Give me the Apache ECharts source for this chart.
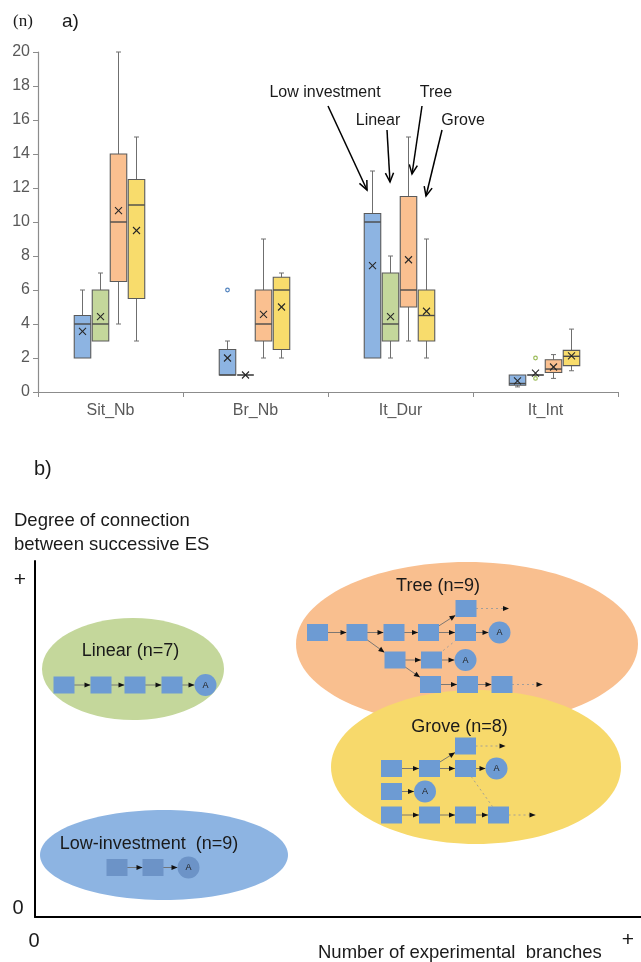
<!DOCTYPE html>
<html>
<head>
<meta charset="utf-8">
<title>Exploration strategies</title>
<script src="https://cdn.jsdelivr.net/npm/echarts@6/dist/echarts.min.js"></script>
<style>
  html, body { margin: 0; padding: 0; background: #fff; }
  #chart { width: 641px; height: 962px; }
</style>
</head>
<body>
<div id="chart"></div>
<script>
// ---------- panel a) box plots, one row per indicator: [min, q1, median, q3, max]
const categories = ['Sit_Nb', 'Br_Nb', 'It_Dur', 'It_Int']

const lowInvestmentBox = [[2, 2, 4, 4.5, 6], [1, 1, 1, 2.5, 3], [2, 2, 10, 10.5, 13], [0.3, 0.4, 0.5, 1, 1]]
const linearBox = [[3, 3, 4, 6, 7], [1, 1, 1, 1, 1], [2, 3, 4, 7, 8], [1, 1, 1, 1, 1]]
const treeBox = [[4, 6.5, 10, 14, 20], [2, 3, 4, 6, 9], [3, 5, 6, 11.5, 15], [0.8, 1.15, 1.35, 1.9, 2.2]]
const groveBox = [[3, 5.5, 11, 12.5, 15], [2, 2.5, 6, 6.75, 7], [2, 3, 4.5, 6, 9], [1.25, 1.55, 2.1, 2.45, 3.7]]

const lowInvestmentMean = [3.56, 2, 7.44, 0.65]
const linearMean = [4.43, 1, 4.43, 1.11]
const treeMean = [10.67, 4.56, 7.78, 1.47]
const groveMean = [9.5, 5, 4.75, 2.13]

// outliers: [category index, value]
const lowInvestmentOutliers = [[1, 6]]
const linearOutliers = [[3, 2], [3, 0.8]]
const treeOutliers = []
const groveOutliers = []

// ---------- panel b) typology diagram, in diagram units (x: branches, y: connection)
const typeLabels = ['Low-investment  (n=9)', 'Linear (n=7)', 'Tree (n=9)', 'Grove (n=8)']
const typeCenters = [[25.8, 12.4], [19.6, 49.6], [86.4, 54.6], [88.2, 30]]
const typeRadii = [[24.8, 9], [18.2, 10.2], [34.2, 16.4], [29, 15.4]]
const typeLabelAnchors = [[22.8, 14.5], [19.1, 53.1], [80.6, 66.2], [84.9, 37.9]]

// nodes: [x, y, kind]  kind 0 = step, 1 = "A" end
const lowInvestmentNodes = [[16.4, 9.9, 0], [23.6, 9.9, 0], [30.7, 9.9, 1]]
const linearNodes = [[5.8, 46.4, 0], [13.2, 46.4, 0], [20, 46.4, 0], [27.4, 46.4, 0], [34.1, 46.4, 1]]
const treeNodes = [
  [56.5, 56.9, 0], [64.4, 56.9, 0], [71.8, 56.9, 0], [78.7, 56.9, 0], [86.1, 56.9, 0], [92.9, 56.9, 1],
  [86.2, 61.7, 0],
  [72, 51.4, 0], [79.3, 51.4, 0], [86.1, 51.4, 1],
  [79.1, 46.5, 0], [86.5, 46.5, 0], [93.4, 46.5, 0]
]
const groveNodes = [
  [86.1, 34.2, 0],
  [71.3, 29.7, 0], [78.9, 29.7, 0], [86.1, 29.7, 0], [92.3, 29.7, 1],
  [71.3, 25.1, 0], [78, 25.1, 1],
  [71.3, 20.4, 0], [78.9, 20.4, 0], [86.1, 20.4, 0], [92.7, 20.4, 0]
]

// edges: [x1, y1, x2, y2, kind]  0 = into step, 1 = into "A", 2 = dashed open end, 3 = dashed link
const lowInvestmentEdges = [[16.4, 9.9, 23.6, 9.9, 0], [23.6, 9.9, 30.7, 9.9, 1]]
const linearEdges = [[5.8, 46.4, 13.2, 46.4, 0], [13.2, 46.4, 20, 46.4, 0], [20, 46.4, 27.4, 46.4, 0], [27.4, 46.4, 34.1, 46.4, 1]]
const treeEdges = [
  [56.5, 56.9, 64.4, 56.9, 0], [64.4, 56.9, 71.8, 56.9, 0], [71.8, 56.9, 78.7, 56.9, 0], [78.7, 56.9, 86.1, 56.9, 0], [86.1, 56.9, 92.9, 56.9, 1],
  [78.7, 56.9, 86.2, 61.7, 0], [86.2, 61.7, 94.8, 61.7, 2],
  [64.4, 56.9, 72, 51.4, 0], [72, 51.4, 79.3, 51.4, 0], [79.3, 51.4, 86.1, 51.4, 1],
  [72, 51.4, 79.1, 46.5, 0], [79.1, 46.5, 86.5, 46.5, 0], [86.5, 46.5, 93.4, 46.5, 0], [93.4, 46.5, 101.5, 46.5, 2],
  [79.3, 51.4, 86.1, 56.9, 3]
]
const groveEdges = [
  [71.3, 29.7, 78.9, 29.7, 0], [78.9, 29.7, 86.1, 29.7, 0], [86.1, 29.7, 92.3, 29.7, 1],
  [78.9, 29.7, 86.1, 34.2, 0], [86.1, 34.2, 94.1, 34.2, 2],
  [71.3, 25.1, 78, 25.1, 1],
  [71.3, 20.4, 78.9, 20.4, 0], [78.9, 20.4, 86.1, 20.4, 0], [86.1, 20.4, 92.7, 20.4, 0], [92.7, 20.4, 100.1, 20.4, 2],
  [86.1, 29.7, 92.7, 20.4, 3]
]

// ---------- styles
const FONT = 'Liberation Sans, Arial, sans-serif'
const boxColors = ['#8db4e2', '#c4d79b', '#fac090', '#f8dc6c']
const outlierColors = ['#4f81bd', '#9bbb59', '#e46c0a', '#c9a50c']
const ellipseColors = ['#8db4e2', '#c4d79b', '#f9bf8f', '#f7d96b']
const BOX_OFFSETS = [-28, -10, 8, 26]
const BOX_W = 16.5
const NODE_W = 21
const NODE_H = 17
const NODE_R = 11

const chart = echarts.init(document.getElementById('chart'))

function seg(x1, y1, x2, y2, stroke, lineWidth) {
  return { type: 'line', shape: { x1, y1, x2, y2 }, style: { stroke, lineWidth } }
}

function boxRenderer(groupIndex) {
  const offset = BOX_OFFSETS[groupIndex]
  const fill = boxColors[groupIndex]
  return function (params, api) {
    const cat = api.value(0)
    const cx = api.coord([cat, 0])[0] + offset
    const py = (i) => api.coord([cat, api.value(i)])[1]
    const yMin = py(1), yQ1 = py(2), yMed = py(3), yQ3 = py(4), yMax = py(5), yMean = py(6)
    const hw = BOX_W / 2
    const children = []
    if (yMax < yQ3 - 0.5) {
      children.push(seg(cx, yQ3, cx, yMax, '#6f6f6f', 1))
      children.push(seg(cx - 2.5, yMax, cx + 2.5, yMax, '#6f6f6f', 1))
    }
    if (yMin > yQ1 + 0.5) {
      children.push(seg(cx, yQ1, cx, yMin, '#6f6f6f', 1))
      children.push(seg(cx - 2.5, yMin, cx + 2.5, yMin, '#6f6f6f', 1))
    }
    children.push({
      type: 'rect',
      shape: { x: cx - hw, y: yQ3, width: BOX_W, height: Math.max(yQ1 - yQ3, 0) },
      style: { fill, stroke: '#5a5a5a', lineWidth: 1.1 }
    })
    children.push(seg(cx - hw, yMed, cx + hw, yMed, '#4a4a4a', 1.4))
    children.push(seg(cx - 3.5, yMean - 3.5, cx + 3.5, yMean + 3.5, '#262626', 1.1))
    children.push(seg(cx - 3.5, yMean + 3.5, cx + 3.5, yMean - 3.5, '#262626', 1.1))
    return { type: 'group', children }
  }
}

function outlierRenderer(groupIndex) {
  const offset = BOX_OFFSETS[groupIndex]
  return function (params, api) {
    const p = api.coord([api.value(0), api.value(1)])
    return {
      type: 'circle',
      shape: { cx: p[0] + offset, cy: p[1], r: 1.8 },
      style: { fill: '#fff', stroke: outlierColors[groupIndex], lineWidth: 1.2 }
    }
  }
}

function boxSeries(name, groupIndex, boxes, means, outliers) {
  return [
    {
      name,
      type: 'custom',
      xAxisIndex: 0,
      yAxisIndex: 0,
      renderItem: boxRenderer(groupIndex),
      data: boxes.map((b, i) => [i, ...b, means[i]]),
      z: 3
    },
    {
      name: name + ' outliers',
      type: 'custom',
      xAxisIndex: 0,
      yAxisIndex: 0,
      renderItem: outlierRenderer(groupIndex),
      data: outliers,
      z: 4
    }
  ]
}

// clip an edge end at the border of the target node
function edgeRenderer(params, api) {
  const a = api.coord([api.value(0), api.value(1)])
  const b = api.coord([api.value(2), api.value(3)])
  const kind = api.value(4)
  const dx = b[0] - a[0]
  const dy = b[1] - a[1]
  const len = Math.sqrt(dx * dx + dy * dy)
  const ux = dx / len
  const uy = dy / len
  let cut = 0
  if (kind === 0 || kind === 3) {
    cut = Math.min(NODE_W / 2 / Math.max(Math.abs(ux), 1e-6), NODE_H / 2 / Math.max(Math.abs(uy), 1e-6))
  } else if (kind === 1) {
    cut = NODE_R
  }
  const tip = [b[0] - ux * cut, b[1] - uy * cut]
  const dashed = kind >= 2
  const children = [{
    type: 'line',
    shape: { x1: a[0], y1: a[1], x2: tip[0], y2: tip[1] },
    style: { stroke: dashed ? '#9a9a9a' : '#6e6e6e', lineWidth: 0.9, lineDash: dashed ? [2, 3] : null }
  }]
  if (kind !== 3) {
    const L = 6
    const W = 2.6
    children.push({
      type: 'polygon',
      shape: {
        points: [
          tip,
          [tip[0] - ux * L - uy * W, tip[1] - uy * L + ux * W],
          [tip[0] - ux * L + uy * W, tip[1] - uy * L - ux * W]
        ]
      },
      style: { fill: '#111' }
    })
  }
  return { type: 'group', children }
}

function nodeRenderer(color) {
  return function (params, api) {
    const p = api.coord([api.value(0), api.value(1)])
    if (api.value(2) === 1) {
      return {
        type: 'group',
        children: [
          { type: 'circle', shape: { cx: p[0], cy: p[1], r: NODE_R }, style: { fill: color } },
          {
            type: 'text',
            x: p[0],
            y: p[1] + 0.5,
            style: { text: 'A', fontSize: 9, fontFamily: FONT, fill: '#222', align: 'center', verticalAlign: 'middle' }
          }
        ]
      }
    }
    return {
      type: 'rect',
      shape: { x: p[0] - NODE_W / 2, y: p[1] - NODE_H / 2, width: NODE_W, height: NODE_H },
      style: { fill: color }
    }
  }
}

function diagramSeries(name, nodes, edges, color) {
  return [
    { name: name + ' links', type: 'custom', xAxisIndex: 1, yAxisIndex: 1, renderItem: edgeRenderer, data: edges, z: 3 },
    { name: name + ' steps', type: 'custom', xAxisIndex: 1, yAxisIndex: 1, renderItem: nodeRenderer(color), data: nodes, z: 4 }
  ]
}

function arrow(x1, y1, x2, y2) {
  const a = Math.atan2(y2 - y1, x2 - x1)
  const L = 10
  const t = 0.42
  return {
    type: 'group',
    children: [
      { type: 'line', shape: { x1, y1, x2, y2 }, style: { stroke: '#000', lineWidth: 1.5 } },
      {
        type: 'polyline',
        shape: {
          points: [
            [x2 - L * Math.cos(a - t), y2 - L * Math.sin(a - t)],
            [x2, y2],
            [x2 - L * Math.cos(a + t), y2 - L * Math.sin(a + t)]
          ]
        },
        style: { stroke: '#000', lineWidth: 1.5, fill: null }
      }
    ]
  }
}

function note(text, x, y, size, extra) {
  return {
    type: 'text',
    x,
    y,
    style: Object.assign({ text, fontSize: size, fontFamily: FONT, fill: '#1a1a1a', align: 'center', verticalAlign: 'middle' }, extra || {})
  }
}

const option = {
  animation: false,
  backgroundColor: '#fff',
  textStyle: { fontFamily: FONT },
  grid: [
    { left: 38, top: 52, width: 580, height: 340 },
    { left: 35, right: 0, top: 561, bottom: 45 }
  ],
  xAxis: [
    {
      gridIndex: 0,
      type: 'category',
      data: categories,
      axisLine: { lineStyle: { color: '#8c8c8c', width: 1.2 } },
      axisTick: { show: true, length: 5, lineStyle: { color: '#8c8c8c' } },
      axisLabel: { color: '#595959', fontSize: 16, margin: 11 },
      splitLine: { show: false }
    },
    {
      gridIndex: 1,
      type: 'value',
      min: 0,
      max: 121.2,
      axisLine: { show: true, onZero: false, lineStyle: { color: '#000', width: 2 } },
      axisTick: { show: false },
      axisLabel: { show: false },
      splitLine: { show: false }
    }
  ],
  yAxis: [
    {
      gridIndex: 0,
      type: 'value',
      min: 0,
      max: 20,
      interval: 2,
      axisLine: { show: true, lineStyle: { color: '#8c8c8c', width: 1.2 } },
      axisTick: { show: true, length: 5, lineStyle: { color: '#8c8c8c' } },
      axisLabel: { color: '#595959', fontSize: 16, margin: 8 },
      splitLine: { show: false }
    },
    {
      gridIndex: 1,
      type: 'value',
      min: 0,
      max: 71.2,
      axisLine: { show: true, onZero: false, lineStyle: { color: '#000', width: 2 } },
      axisTick: { show: false },
      axisLabel: { show: false },
      splitLine: { show: false }
    }
  ],
  graphic: [
    note('(n)', 13, 22, 17, { align: 'left', fontFamily: 'Liberation Serif, DejaVu Serif, serif' }),
    note('a)', 62, 22, 19, { align: 'left' }),
    note('Low investment', 325, 93, 16),
    note('Linear', 378, 121, 16),
    note('Tree', 436, 93, 16),
    note('Grove', 463, 121, 16),
    arrow(328, 106, 367, 190),
    arrow(387, 130, 390, 182),
    arrow(422, 106, 412, 174),
    arrow(442, 130, 426, 196),
    note('b)', 34, 469, 20, { align: 'left' }),
    note('Degree of connection', 14, 521, 18.5, { align: 'left' }),
    note('between successive ES', 14, 545, 18.5, { align: 'left' }),
    note('+', 20, 580, 21),
    note('0', 18, 908, 20),
    note('0', 34, 941, 20),
    note('+', 628, 940, 21),
    note('Number of experimental  branches', 318, 953, 18.5, { align: 'left' })
  ],
  series: [
    ...boxSeries('Low investment', 0, lowInvestmentBox, lowInvestmentMean, lowInvestmentOutliers),
    ...boxSeries('Linear', 1, linearBox, linearMean, linearOutliers),
    ...boxSeries('Tree', 2, treeBox, treeMean, treeOutliers),
    ...boxSeries('Grove', 3, groveBox, groveMean, groveOutliers),
    {
      name: 'Types',
      type: 'custom',
      xAxisIndex: 1,
      yAxisIndex: 1,
      z: 1,
      data: typeCenters.map((c, i) => [c[0], c[1], typeRadii[i][0], typeRadii[i][1], i]),
      renderItem(params, api) {
        const p = api.coord([api.value(0), api.value(1)])
        const s = api.size([api.value(2), api.value(3)])
        return {
          type: 'ellipse',
          shape: { cx: p[0], cy: p[1], rx: s[0], ry: s[1] },
          style: { fill: ellipseColors[api.value(4)] }
        }
      }
    },
    {
      name: 'Type labels',
      type: 'custom',
      xAxisIndex: 1,
      yAxisIndex: 1,
      z: 5,
      data: typeLabelAnchors.map((c, i) => [c[0], c[1], i]),
      renderItem(params, api) {
        const p = api.coord([api.value(0), api.value(1)])
        return {
          type: 'text',
          x: p[0],
          y: p[1],
          style: {
            text: typeLabels[api.value(2)],
            fontSize: 18,
            fontFamily: FONT,
            fill: '#1a1a1a',
            align: 'center',
            verticalAlign: 'middle'
          }
        }
      }
    },
    ...diagramSeries('Low-investment', lowInvestmentNodes, lowInvestmentEdges, '#6c93c7'),
    ...diagramSeries('Linear', linearNodes, linearEdges, '#6d9bd3'),
    ...diagramSeries('Tree', treeNodes, treeEdges, '#6d9bd3'),
    ...diagramSeries('Grove', groveNodes, groveEdges, '#6d9bd3')
  ]
}

chart.setOption(option)
window.addEventListener('resize', () => chart.resize())
</script>
</body>
</html>
